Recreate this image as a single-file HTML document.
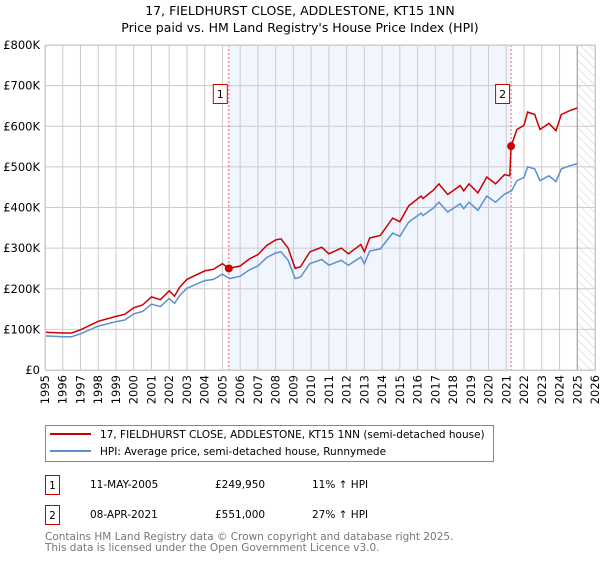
<!DOCTYPE html>
<html><head><meta charset="utf-8"><style>
body{margin:0;background:#fff;font-family:"DejaVu Sans","Liberation Sans",sans-serif;}
svg text{font-family:"DejaVu Sans","Liberation Sans",sans-serif;}
</style></head><body>
<svg id="chart" width="600" height="560" xmlns="http://www.w3.org/2000/svg">
<defs><pattern id="hatch" width="6" height="6" patternUnits="userSpaceOnUse" patternTransform="rotate(-45)"><line x1="0" y1="0" x2="0" y2="6" stroke="#ccc" stroke-width="1"/></pattern></defs>
<text x="300" y="15" text-anchor="middle" font-size="12.5">17, FIELDHURST CLOSE, ADDLESTONE, KT15 1NN</text>
<text x="300" y="32" text-anchor="middle" font-size="12.5">Price paid vs. HM Land Registry's House Price Index (HPI)</text>
<g id="plot"></g>
<rect x="45.5" y="425.5" width="448" height="36" fill="#fff" stroke="#888"/>
<line x1="50" y1="434" x2="91" y2="434" stroke="#cc0000" stroke-width="2"/>
<text x="100" y="438" font-size="10.5">17, FIELDHURST CLOSE, ADDLESTONE, KT15 1NN (semi-detached house)</text>
<line x1="50" y1="451" x2="91" y2="451" stroke="#5b8fd0" stroke-width="2"/>
<text x="100" y="455" font-size="10.5">HPI: Average price, semi-detached house, Runnymede</text>
<rect x="45.5" y="475.5" width="14" height="19" fill="#fff" stroke="#cc0000"/>
<text x="52.5" y="489" text-anchor="middle" font-size="10.5">1</text>
<text x="90" y="488" font-size="10.5">11-MAY-2005</text>
<text x="215" y="488" font-size="10.5">£249,950</text>
<text x="312" y="488" font-size="10.5">11% ↑ HPI</text>
<rect x="45.5" y="505.5" width="14" height="19" fill="#fff" stroke="#cc0000"/>
<text x="52.5" y="519" text-anchor="middle" font-size="10.5">2</text>
<text x="90" y="518" font-size="10.5">08-APR-2021</text>
<text x="215" y="518" font-size="10.5">£551,000</text>
<text x="312" y="518" font-size="10.5">27% ↑ HPI</text>
<text x="45" y="540" font-size="10.5" fill="#777">Contains HM Land Registry data © Crown copyright and database right 2025.</text>
<text x="45" y="551" font-size="10.5" fill="#777">This data is licensed under the Open Government Licence v3.0.</text>
</svg>
<script>
const yTicks=[0,100,200,300,400,500,600,700,800];
const yTickLabels=["£0","£100K","£200K","£300K","£400K","£500K","£600K","£700K","£800K"];
const xYears=[1995,1996,1997,1998,1999,2000,2001,2002,2003,2004,2005,2006,2007,2008,2009,2010,2011,2012,2013,2014,2015,2016,2017,2018,2019,2020,2021,2022,2023,2024,2025,2026];
const hpiT=[1995,1996,1996.5,1997,1998,1999,1999.5,2000,2000.5,2001,2001.5,2002,2002.3,2002.6,2003,2004,2004.5,2005,2005.4,2006,2006.5,2007,2007.5,2008,2008.3,2008.7,2009.1,2009.4,2009.93,2010.6,2011,2011.7,2012.1,2012.8,2013,2013.3,2013.9,2014.6,2015,2015.5,2016.2,2016.3,2016.9,2017.2,2017.7,2018.4,2018.6,2018.9,2019.4,2019.9,2020.4,2020.9,2021.3,2021.6,2022,2022.2,2022.6,2022.9,2023.4,2023.8,2024.1,2024.6,2025];
const hpiV=[84,82,82,89,108,119,123,138,144,162,156,176,164,184,201,220,223,236,225,231,246,256,277,288,291,270,225,229,262,272,258,270,258,278,262,293,298,337,329,364,386,380,399,413,389,409,397,413,393,428,413,433,441,466,474,500,495,466,478,464,495,503,508];
const propT=[1995,1996,1996.5,1997,1998,1999,1999.5,2000,2000.5,2001,2001.5,2002,2002.3,2002.6,2003,2004,2004.5,2005,2005.36,2006,2006.5,2007,2007.5,2008,2008.3,2008.7,2009.1,2009.4,2009.93,2010.6,2011,2011.7,2012.1,2012.8,2013,2013.3,2013.9,2014.6,2015,2015.5,2016.2,2016.3,2016.9,2017.2,2017.7,2018.4,2018.6,2018.9,2019.4,2019.9,2020.4,2020.9,2021.2,2021.27,2021.6,2022,2022.2,2022.6,2022.9,2023.4,2023.8,2024.1,2024.6,2025];
const propV=[93,91,91,99,120,132,137,153,160,180,173,195,182,204,223,244,248,262,250,256,273,284,307,320,323,300,250,254,291,302,286,300,286,309,291,325,331,374,365,404,428,422,443,458,432,454,441,458,436,475,458,481,478,551,592,602,635,629,592,607,589,629,639,645];
const saleT=[2005.36,2021.27];
const saleV=[249.95,551];
const saleLabels=["1","2"];
const X0=45,X1=595,Y0=370,Y1=45;
const xs=t=>X0+(t-1995)/(2026-1995)*(X1-X0);
const ys=v=>Y0-v/800*(Y0-Y1);
const NS="http://www.w3.org/2000/svg";
const plot=document.getElementById('plot');
function mk(tag,attrs){const e=document.createElementNS(NS,tag);for(const k in attrs)e.setAttribute(k,attrs[k]);plot.appendChild(e);return e;}
let r=mk('rect',{x:xs(saleT[0]),y:Y1,width:xs(saleT[1])-xs(saleT[0]),height:Y0-Y1,fill:'#eef3fd',opacity:0.8});


let h=mk('rect',{x:xs(2025.0),y:Y1,width:X1-xs(2025.0),height:Y0-Y1,fill:'url(#hatch)'});


xYears.forEach(y=>{const x=xs(y);
const g=mk('line',{x1:x,y1:Y1,x2:x,y2:Y0,stroke:'#cccccc','stroke-width':1});


const t=mk('text',{x:0,y:0,'font-size':11.5,'text-anchor':'end',transform:`translate(${x+4},${Y0+5}) rotate(-90)`});
t.textContent=y;

});
yTicks.forEach((v,i)=>{const y=ys(v);
const g=mk('line',{x1:X0,y1:y,x2:X1,y2:y,stroke:'#cccccc','stroke-width':1});


const t=mk('text',{x:40,y:y+4,'font-size':11.5,'text-anchor':'end'});
t.textContent=yTickLabels[i];

});
let vl=mk('line',{x1:xs(2025.0),y1:Y1,x2:xs(2025.0),y2:Y0,stroke:'#999','stroke-width':1});


saleT.forEach((t,i)=>{const l=mk('line',{x1:xs(t),y1:Y1,x2:xs(t),y2:Y0,stroke:'#ee6666','stroke-width':1,'stroke-dasharray':'2,2'});


const b=mk('rect',{x:xs(t)-15.5,y:84.5,width:14,height:19,fill:'#fff',stroke:'#cc0000'});


const tx=mk('text',{x:xs(t)-8.5,y:98,'font-size':11,'text-anchor':'middle'});
tx.textContent=saleLabels[i];

});
const pts=(T,V)=>T.map((t,i)=>xs(t).toFixed(1)+','+ys(V[i]).toFixed(1)).join(' ');
let hl=mk('polyline',{points:pts(hpiT,hpiV),fill:'none',stroke:'#5b8fd0','stroke-width':1.5});


let pl=mk('polyline',{points:pts(propT,propV),fill:'none',stroke:'#cc0000','stroke-width':1.5});


saleT.forEach((t,i)=>{const c=mk('circle',{cx:xs(t),cy:ys(saleV[i]),r:4,fill:'#cc0000'});

});
let fr=mk('rect',{x:X0+0.5,y:Y1+0.5,width:X1-X0,height:Y0-Y1,fill:'none',stroke:'#cccccc'});


</script>
</body></html>
